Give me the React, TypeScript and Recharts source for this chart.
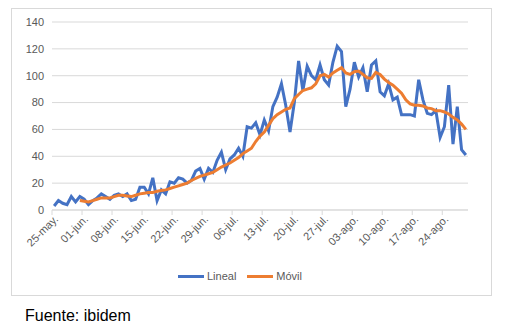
import { CartesianGrid, Legend, Line, LineChart, XAxis, YAxis } from "recharts";

// ticks every 7 days, first day 25-may.
const tickDays = [0, 7, 14, 21, 28, 35, 42, 49, 56, 63, 70, 77, 84, 91];
const tickLabels = [
  "25-may.", "01-jun.", "08-jun.", "15-jun.", "22-jun.", "29-jun.", "06-jul.",
  "13-jul.", "20-jul.", "27-jul.", "03-ago.", "10-ago.", "17-ago.", "24-ago.",
];
const yTicks = [0, 20, 40, 60, 80, 100, 120, 140];

// daily values, 25-may to 29-ago
const lineal = [
  3, 7, 5, 4, 10, 6, 10, 8, 4, 7,
  9, 12, 10, 8, 11, 12, 10, 12, 7, 8,
  17, 17, 12, 24, 7, 15, 12, 21, 20, 24,
  23, 20, 22, 29, 31, 23, 31, 28, 37, 43,
  30, 38, 41, 46, 40, 62, 61, 65, 56, 67,
  59, 77, 84, 94, 78, 58, 80, 111, 89, 107,
  100, 97, 108, 97, 93, 110, 122, 118, 77, 90,
  110, 99, 106, 88, 108, 111, 88, 85, 94, 82,
  84, 71, 71, 71, 70, 97, 82, 72, 71, 74,
  54, 62, 93, 49, 77, 45, 41,
];
const movil: (number | null)[] = [
  null, null, null, null, null, null, 7, 6.5, 6, 7,
  8, 9, 9, 9, 10, 11, 11, 10.5, 10, 11,
  12, 12.5, 13, 13, 14, 14.5, 15, 16, 17, 18,
  19, 20, 22, 23.5, 25, 26, 27, 28, 30, 32,
  33.5, 35, 37, 39, 42, 44, 46, 51, 55, 58,
  63, 68, 71, 73, 75, 76, 83, 86, 89, 90,
  91, 94, 100, 101, 99, 102, 104, 106, 102, 101,
  103, 103.5, 101, 98.5, 98, 102.5, 101, 97.5, 95, 93,
  90, 87, 82, 79, 78, 78, 77.5, 76, 75.5, 74,
  74, 73, 71.5, 69, 67, 64, 60,
];

// points sit between the day ticks, like the Excel date axis
const data = lineal.map((v, i) => ({ x: i + 0.5, lineal: v, movil: movil[i] }));

const FONT = "'Liberation Sans', Arial, sans-serif";
const TEXT = "#595959";
const BLUE = "#4472C4";
const ORANGE = "#ED7D31";

function DateTick(props: any) {
  const { x, y, payload } = props;
  const idx = tickDays.indexOf(payload.value);
  return (
    <g transform={`translate(${x + 4},${y})`}>
      <text transform="rotate(-45)" textAnchor="end" dy={4} fontSize={11} fill={TEXT} fontFamily={FONT}>
        {tickLabels[idx]}
      </text>
    </g>
  );
}

function LegendBox() {
  const items = [
    { label: "Lineal", color: BLUE },
    { label: "Móvil", color: ORANGE },
  ];
  return (
    <div style={{ display: "flex", justifyContent: "center", gap: 11, fontFamily: FONT, fontSize: 11, color: TEXT, height: 20, alignItems: "center" }}>
      {items.map((it) => (
        <div key={it.label} style={{ display: "flex", alignItems: "center", gap: 3 }}>
          <span style={{ display: "inline-block", width: 26, height: 3, background: it.color }} />
          <span>{it.label}</span>
        </div>
      ))}
    </div>
  );
}

export default function App() {
  return (
    <div style={{ position: "absolute", left: 0, top: 0, width: 507, height: 333, background: "#fff" }}>
      <div style={{ position: "absolute", left: 11, top: 8, width: 481, height: 288, border: "1px solid #d9d9d9", boxSizing: "border-box" }}>
        <LineChart width={479} height={286} data={data} margin={{ top: 13, right: 23, left: 0, bottom: 9 }}>
          <CartesianGrid vertical={false} stroke="#d9d9d9" />
          <XAxis
            type="number"
            dataKey="x"
            domain={[0, 97]}
            ticks={tickDays}
            interval={0}
            height={56}
            tick={<DateTick />}
            tickSize={5}
            axisLine={{ stroke: "#d9d9d9" }}
            tickLine={{ stroke: "#d9d9d9" }}
          />
          <YAxis
            domain={[0, 140]}
            ticks={yTicks}
            interval={0}
            width={40}
            axisLine={false}
            tickLine={false}
            tick={{ fontSize: 11, fill: TEXT, fontFamily: FONT }}
          />
          <Legend verticalAlign="bottom" content={<LegendBox />} />
          <Line type="linear" dataKey="lineal" stroke={BLUE} strokeWidth={3} dot={false} isAnimationActive={false} />
          <Line type="linear" dataKey="movil" stroke={ORANGE} strokeWidth={3} dot={false} isAnimationActive={false} />
        </LineChart>
      </div>
      <div style={{ position: "absolute", left: 25, top: 307, fontFamily: FONT, fontSize: 16, color: "#000" }}>
        Fuente: ibidem
      </div>
    </div>
  );
}
